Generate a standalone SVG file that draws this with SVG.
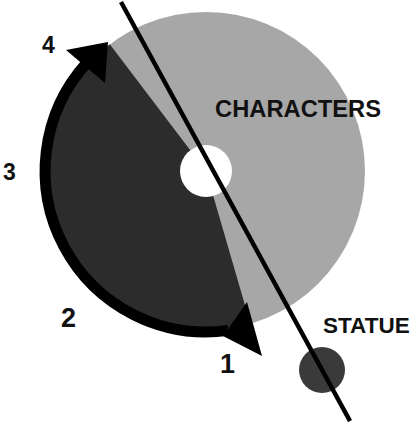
<svg xmlns="http://www.w3.org/2000/svg" width="418" height="422" viewBox="0 0 418 422">
<style>
.lbl{font-family:"Liberation Sans",Arial,sans-serif;font-weight:bold;fill:#111}
.num{font-family:"Liberation Sans",Arial,sans-serif;font-weight:bold;fill:#111;font-size:23px}
.numL{font-family:"Liberation Sans",Arial,sans-serif;font-weight:bold;fill:#111;font-size:27px}
</style>
<rect width="418" height="422" fill="#fff"/>
<g id="characters">
<circle cx="206" cy="171" r="159" fill="#a7a7a7"/>
<path d="M206,171 L109.8,44.3 A159,159 0 0 0 250.4,323.7 Z" fill="#2c2c2c"/>
<circle cx="206" cy="171" r="26" fill="#fff"/>
<text class="lbl" x="215" y="117" font-size="23.5" textLength="166" lengthAdjust="spacingAndGlyphs">CHARACTERS</text>
</g>
<g id="statue">
<circle cx="322" cy="370" r="23" fill="#3a3a3a"/>
<text class="lbl" x="323" y="333" font-size="22.5">STATUE</text>
</g>
<g id="connectors">
<path d="M86.4,63.3 A161,161 0 0 0 228.4,330.4" fill="none" stroke="#000" stroke-width="11"/>
<polygon points="66,50 108,42 105,83" fill="#000"/>
<polygon points="247,302 223,336 262,356" fill="#000"/>
<line x1="121" y1="2" x2="350" y2="421" stroke="#000" stroke-width="4.5"/>
</g>
<g id="labels">
<text class="num" x="42" y="53">4</text>
<text class="num" x="3" y="180">3</text>
<text class="numL" x="61" y="327">2</text>
<text class="numL" x="220" y="373">1</text>
</g>
</svg>
